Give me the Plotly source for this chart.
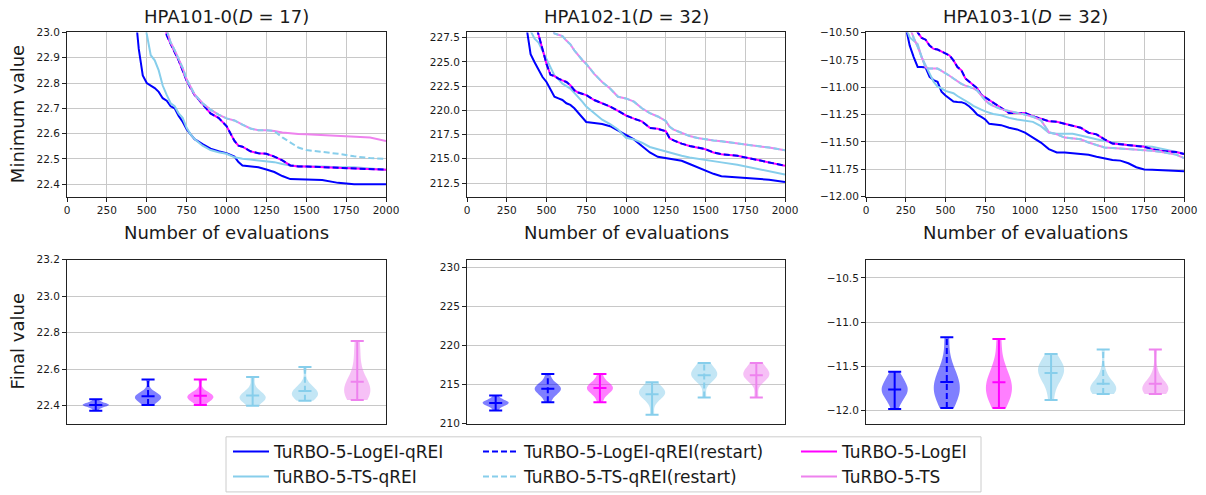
import numpy as np
import plotly.graph_objects as go

W, H = 1206, 495

# ---------------- data: convergence curves (best value so far) ----------------
p1_x = [425, 450, 475, 500, 525, 550, 575, 600, 625, 650, 675, 700, 725, 750, 775, 800,
        850, 900, 950, 1000, 1050, 1075, 1100, 1150, 1200, 1250, 1300, 1350, 1400, 1450,
        1500, 1600, 1700, 1800, 1900, 2000]
p1_logei_qrei = [23.10, 22.935, 22.83, 22.80, 22.79, 22.78, 22.765, 22.74, 22.73, 22.708,
                 22.70, 22.67, 22.647, 22.617, 22.597, 22.578, 22.558, 22.54, 22.53, 22.522,
                 22.509, 22.487, 22.474, 22.47, 22.467, 22.458, 22.448, 22.432, 22.42, 22.419,
                 22.418, 22.416, 22.405, 22.40, 22.40, 22.40]
p1_ts_qrei = [None, None, 23.10, 22.994, 22.91, 22.89, 22.85, 22.79, 22.753, 22.72, 22.708,
              22.68, 22.662, 22.623, 22.597, 22.578, 22.552, 22.535, 22.526, 22.52, 22.506,
              22.502, 22.50, 22.497, 22.494, 22.49, 22.487, 22.48, 22.474, 22.472, 22.47,
              22.47, 22.467, 22.467, 22.461, 22.457]
p1_logei = [None, None, None, None, None, None, None, 23.10, 22.99, 22.955, 22.922, 22.89,
            22.85, 22.81, 22.78, 22.753, 22.717, 22.68, 22.662, 22.63, 22.571, 22.552, 22.548,
            22.53, 22.522, 22.52, 22.509, 22.494, 22.474, 22.47, 22.47, 22.467, 22.465, 22.461,
            22.458, 22.457]
p1_logei_qrei_restart = [None, None, None, None, None, None, None, 23.10, 22.99, 22.955,
                         22.922, 22.89, 22.85, 22.81, 22.78, 22.753, 22.717, 22.68, 22.662,
                         22.63, 22.571, 22.552, 22.548, 22.53, 22.522, 22.52, 22.509, 22.494,
                         22.474, 22.47, 22.47, 22.467, 22.465, 22.461, 22.458, 22.457]
p1_ts = [None, None, None, None, None, None, None, None, 23.01, 22.96, 22.93, 22.895, 22.86,
         22.815, 22.785, 22.755, 22.72, 22.695, 22.675, 22.66, 22.652, 22.645, 22.635, 22.62,
         22.613, 22.613, 22.61, 22.604, 22.60, 22.598, 22.597, 22.594, 22.591, 22.587, 22.584,
         22.571]
p1_ts_qrei_restart = [None, None, None, None, None, None, None, None, 23.01, 22.96, 22.93,
                      22.895, 22.86, 22.815, 22.785, 22.755, 22.72, 22.695, 22.675, 22.66,
                      22.652, 22.645, 22.635, 22.62, 22.613, 22.613, 22.61, 22.585, 22.565,
                      22.545, 22.535, 22.528, 22.52, 22.51, 22.503, 22.50]

p2_x = [375, 400, 425, 450, 475, 500, 525, 550, 575, 600, 625, 650, 675, 700, 725, 750, 800,
        850, 900, 950, 1000, 1050, 1100, 1150, 1200, 1250, 1275, 1300, 1350, 1400, 1450, 1500,
        1550, 1600, 1700, 1800, 1900, 2000]
p2_logei_qrei = [228.5, 225.8, 224.96, 224.11, 223.44, 222.93, 222.08, 221.40, 221.23, 221.07,
                 220.73, 220.56, 220.22, 219.71, 219.27, 218.80, 218.70, 218.59, 218.36, 217.92,
                 217.44, 217.0, 216.33, 215.65, 215.21, 215.07, 215.02, 214.97, 214.80, 214.46,
                 214.12, 213.79, 213.45, 213.21, 213.11, 212.94, 212.84, 212.60]
p2_ts_qrei = [None, 228.2, 227.4, 226.99, 226.15, 225.3, 224.45, 223.6, 223.2, 222.76, 222.5,
              222.25, 221.8, 221.40, 220.9, 220.39, 219.71, 219.03, 218.59, 218.02, 217.17,
              217.0, 216.66, 216.22, 215.99, 215.75, 215.65, 215.55, 215.31, 215.14, 215.0,
              214.9, 214.75, 214.63, 214.39, 214.06, 213.72, 213.38]
p2_logei = [None, None, 229.3, 227.67, 226.31, 224.79, 223.67, 223.54, 223.27, 223.1, 222.93,
            222.59, 222.08, 221.84, 221.74, 221.57, 221.07, 220.73, 220.39, 219.95, 219.47,
            219.14, 218.86, 218.19, 218.09, 217.85, 217.1, 216.90, 216.56, 216.33, 216.16,
            215.99, 215.65, 215.48, 215.31, 214.97, 214.63, 214.29]
p2_logei_qrei_restart = [None, None, 229.3, 227.67, 226.31, 224.79, 223.67, 223.54, 223.27,
                         223.1, 222.93, 222.59, 222.08, 221.84, 221.74, 221.57, 221.07, 220.73,
                         220.39, 219.95, 219.47, 219.14, 218.86, 218.19, 218.09, 217.85, 217.1,
                         216.90, 216.56, 216.33, 216.16, 215.99, 215.65, 215.48, 215.31, 214.97,
                         214.63, 214.29]
p2_ts = [None, None, None, None, None, None, 229.0, 227.94, 227.8, 227.67, 227.2, 226.82,
         226.2, 225.64, 225.2, 224.79, 223.77, 222.93, 222.25, 221.40, 221.23, 220.90, 220.22,
         219.71, 219.37, 218.9, 218.3, 218.0, 217.65, 217.35, 217.15, 217.0, 216.9, 216.8,
         216.6, 216.33, 216.16, 215.89]
p2_ts_qrei_restart = [None, None, None, None, None, None, 229.0, 227.94, 227.8, 227.67, 227.2,
                      226.82, 226.2, 225.64, 225.2, 224.79, 223.77, 222.93, 222.25, 221.40,
                      221.23, 220.90, 220.22, 219.71, 219.37, 218.9, 218.3, 218.0, 217.65,
                      217.35, 217.15, 217.0, 216.9, 216.8, 216.6, 216.33, 216.16, 215.89]

p3_x = [250, 275, 300, 325, 350, 375, 400, 425, 450, 475, 500, 525, 550, 575, 600, 625, 650,
        675, 700, 725, 750, 775, 800, 850, 900, 950, 1000, 1050, 1100, 1150, 1200, 1250, 1300,
        1350, 1400, 1450, 1500, 1550, 1600, 1650, 1700, 1750, 1800, 1850, 1900, 1950, 2000]
p3_logei_qrei = [-10.45, -10.62, -10.725, -10.815, -10.815, -10.82, -10.905, -10.935, -10.95,
                 -11.04, -11.076, -11.10, -11.13, -11.135, -11.136, -11.15, -11.175, -11.21,
                 -11.25, -11.27, -11.295, -11.334, -11.34, -11.346, -11.37, -11.385, -11.415,
                 -11.46, -11.505, -11.565, -11.595, -11.595, -11.60, -11.61, -11.616, -11.634,
                 -11.65, -11.664, -11.67, -11.694, -11.73, -11.751, -11.754, -11.757, -11.76,
                 -11.763, -11.766]
p3_ts_qrei = [-10.45, -10.545, -10.575, -10.605, -10.725, -10.80, -10.875, -10.95, -10.995,
              -11.01, -11.034, -11.045, -11.055, -11.08, -11.10, -11.12, -11.145, -11.17,
              -11.19, -11.205, -11.22, -11.235, -11.244, -11.256, -11.28, -11.295, -11.304,
              -11.316, -11.355, -11.415, -11.424, -11.424, -11.424, -11.44, -11.46, -11.475,
              -11.49, -11.505, -11.52, -11.53, -11.535, -11.54, -11.544, -11.56, -11.574,
              -11.59, -11.604]
p3_logei = [None, None, -10.40, -10.50, -10.55, -10.566, -10.62, -10.65, -10.656, -10.674,
            -10.686, -10.71, -10.755, -10.815, -10.845, -10.92, -10.95, -10.98, -11.01, -11.07,
            -11.094, -11.12, -11.145, -11.19, -11.235, -11.235, -11.235, -11.265, -11.286,
            -11.31, -11.316, -11.334, -11.355, -11.37, -11.415, -11.43, -11.475, -11.514,
            -11.52, -11.53, -11.535, -11.544, -11.565, -11.58, -11.586, -11.592, -11.61]
p3_logei_qrei_restart = [None, None, -10.40, -10.50, -10.55, -10.566, -10.62, -10.65, -10.656,
                         -10.674, -10.686, -10.71, -10.755, -10.815, -10.845, -10.92, -10.95,
                         -10.98, -11.01, -11.07, -11.094, -11.12, -11.145, -11.19, -11.235,
                         -11.235, -11.235, -11.265, -11.286, -11.31, -11.316, -11.334, -11.355,
                         -11.37, -11.415, -11.43, -11.475, -11.514, -11.52, -11.53, -11.535,
                         -11.544, -11.565, -11.58, -11.586, -11.592, -11.61]
p3_ts = [None, -10.45, -10.55, -10.63, -10.72, -10.82, -10.83, -10.83, -10.83, -10.85, -10.87,
         -10.895, -10.92, -10.945, -10.97, -10.985, -10.995, -11.01, -11.03, -11.08, -11.12,
         -11.15, -11.17, -11.20, -11.215, -11.23, -11.25, -11.27, -11.30, -11.41, -11.43,
         -11.46, -11.47, -11.475, -11.505, -11.525, -11.55, -11.555, -11.56, -11.563, -11.565,
         -11.572, -11.58, -11.59, -11.60, -11.615, -11.646]
p3_ts_qrei_restart = [None, -10.45, -10.55, -10.63, -10.72, -10.82, -10.83, -10.83, -10.83,
                      -10.85, -10.87, -10.895, -10.92, -10.945, -10.97, -10.985, -10.995,
                      -11.01, -11.03, -11.08, -11.12, -11.15, -11.17, -11.20, -11.215, -11.23,
                      -11.25, -11.27, -11.30, -11.41, -11.43, -11.46, -11.47, -11.475, -11.505,
                      -11.525, -11.55, -11.555, -11.56, -11.563, -11.565, -11.572, -11.58,
                      -11.59, -11.60, -11.615, -11.646]

# ---------------- data: final values (samples per method, estimated) ----------------
p1_final = {
    "TuRBO-5-LogEI-qREI": [22.373, 22.395, 22.400, 22.403, 22.405, 22.407, 22.410, 22.415, 22.436],
    "TuRBO-5-LogEI-qREI(restart)": [22.404, 22.425, 22.435, 22.44, 22.445, 22.45, 22.455, 22.46, 22.47, 22.544],
    "TuRBO-5-LogEI": [22.404, 22.428, 22.437, 22.443, 22.448, 22.452, 22.456, 22.462, 22.47, 22.544],
    "TuRBO-5-TS-qREI": [22.400, 22.425, 22.435, 22.44, 22.445, 22.45, 22.455, 22.465, 22.49, 22.557],
    "TuRBO-5-TS-qREI(restart)": [22.427, 22.445, 22.455, 22.46, 22.465, 22.47, 22.48, 22.49, 22.51, 22.613],
    "TuRBO-5-TS": [22.432, 22.455, 22.47, 22.48, 22.49, 22.5, 22.515, 22.565, 22.66, 22.755],
}
p2_final = {
    "TuRBO-5-LogEI-qREI": [211.64, 212.2, 212.4, 212.5, 212.6, 212.65, 212.75, 212.85, 213.0, 213.57],
    "TuRBO-5-LogEI-qREI(restart)": [212.69, 213.6, 214.0, 214.2, 214.35, 214.5, 214.65, 214.8, 215.2, 216.34],
    "TuRBO-5-LogEI": [212.69, 213.7, 214.1, 214.3, 214.45, 214.6, 214.75, 214.9, 215.3, 216.34],
    "TuRBO-5-TS-qREI": [211.09, 212.9, 213.5, 213.7, 213.85, 213.9, 214.1, 214.3, 214.8, 215.25],
    "TuRBO-5-TS-qREI(restart)": [213.32, 215.5, 215.85, 216.0, 216.15, 216.35, 216.55, 216.9, 217.35, 217.73],
    "TuRBO-5-TS": [213.32, 215.5, 215.85, 216.0, 216.15, 216.35, 216.55, 216.9, 217.35, 217.73],
}
p3_final = {
    "TuRBO-5-LogEI-qREI": [-11.98, -11.88, -11.83, -11.80, -11.77, -11.75, -11.72, -11.68, -11.63, -11.56],
    "TuRBO-5-LogEI-qREI(restart)": [-11.97, -11.88, -11.82, -11.78, -11.74, -11.70, -11.65, -11.58, -11.48, -11.17],
    "TuRBO-5-LogEI": [-11.97, -11.88, -11.82, -11.78, -11.74, -11.70, -11.65, -11.58, -11.47, -11.19],
    "TuRBO-5-TS-qREI": [-11.88, -11.72, -11.65, -11.60, -11.57, -11.54, -11.51, -11.48, -11.44, -11.36],
    "TuRBO-5-TS-qREI(restart)": [-11.81, -11.79, -11.78, -11.77, -11.76, -11.75, -11.74, -11.72, -11.70, -11.66, -11.55, -11.31],
    "TuRBO-5-TS": [-11.81, -11.79, -11.78, -11.77, -11.76, -11.75, -11.74, -11.72, -11.70, -11.66, -11.55, -11.31],
}

titles = ["HPA101-0(<i>D</i> = 17)", "HPA102-1(<i>D</i> = 32)", "HPA103-1(<i>D</i> = 32)"]
x_ticks = [0, 250, 500, 750, 1000, 1250, 1500, 1750, 2000]

# ---------------- styles ----------------
FONT = "DejaVu Sans"
TXT = "#1a1a1a"
methods = ["TuRBO-5-LogEI-qREI", "TuRBO-5-TS-qREI", "TuRBO-5-LogEI",
           "TuRBO-5-LogEI-qREI(restart)", "TuRBO-5-TS", "TuRBO-5-TS-qREI(restart)"]
style = {
    "TuRBO-5-LogEI-qREI": dict(color="#0000ff", dash="solid", legend="legend"),
    "TuRBO-5-TS-qREI": dict(color="#87ceeb", dash="solid", legend="legend"),
    "TuRBO-5-LogEI-qREI(restart)": dict(color="#0000ff", dash="6px,3px", legend="legend2"),
    "TuRBO-5-TS-qREI(restart)": dict(color="#87ceeb", dash="6px,3px", legend="legend2"),
    "TuRBO-5-LogEI": dict(color="#ff00ff", dash="solid", legend="legend3"),
    "TuRBO-5-TS": dict(color="#ee82ee", dash="solid", legend="legend3"),
}
fills = {
    "TuRBO-5-LogEI-qREI": "rgba(0,0,255,0.5)",
    "TuRBO-5-LogEI-qREI(restart)": "rgba(0,0,255,0.5)",
    "TuRBO-5-LogEI": "rgba(255,0,255,0.5)",
    "TuRBO-5-TS-qREI": "rgba(135,206,235,0.5)",
    "TuRBO-5-TS-qREI(restart)": "rgba(135,206,235,0.5)",
    "TuRBO-5-TS": "rgba(238,130,238,0.5)",
}
violin_order = ["TuRBO-5-LogEI-qREI", "TuRBO-5-LogEI-qREI(restart)", "TuRBO-5-LogEI",
                "TuRBO-5-TS-qREI", "TuRBO-5-TS-qREI(restart)", "TuRBO-5-TS"]

curves = [
    (p1_x, {"TuRBO-5-LogEI-qREI": p1_logei_qrei, "TuRBO-5-TS-qREI": p1_ts_qrei,
            "TuRBO-5-LogEI": p1_logei, "TuRBO-5-LogEI-qREI(restart)": p1_logei_qrei_restart,
            "TuRBO-5-TS": p1_ts, "TuRBO-5-TS-qREI(restart)": p1_ts_qrei_restart}),
    (p2_x, {"TuRBO-5-LogEI-qREI": p2_logei_qrei, "TuRBO-5-TS-qREI": p2_ts_qrei,
            "TuRBO-5-LogEI": p2_logei, "TuRBO-5-LogEI-qREI(restart)": p2_logei_qrei_restart,
            "TuRBO-5-TS": p2_ts, "TuRBO-5-TS-qREI(restart)": p2_ts_qrei_restart}),
    (p3_x, {"TuRBO-5-LogEI-qREI": p3_logei_qrei, "TuRBO-5-TS-qREI": p3_ts_qrei,
            "TuRBO-5-LogEI": p3_logei, "TuRBO-5-LogEI-qREI(restart)": p3_logei_qrei_restart,
            "TuRBO-5-TS": p3_ts, "TuRBO-5-TS-qREI(restart)": p3_ts_qrei_restart}),
]
finals = [p1_final, p2_final, p3_final]

fig = go.Figure()

# top row: convergence curves
for k, (xs, series) in enumerate(curves):
    ax = "" if k == 0 else str(k + 1)
    for m in methods:
        st = style[m]
        fig.add_trace(go.Scatter(
            x=xs, y=series[m], mode="lines", name=m,
            line=dict(color=st["color"], width=2, dash=st["dash"]),
            xaxis="x" + ax, yaxis="y" + ax,
            showlegend=(k == 0), legend=st["legend"], connectgaps=False,
        ))

# bottom row: violins of final values (Scott's rule bandwidth, like matplotlib)
CAP = 0.125
for k, fin in enumerate(finals):
    ax = str(k + 4)
    for i, m in enumerate(violin_order):
        pos = i + 1
        vals = np.array(fin[m])
        bw = float(np.std(vals, ddof=1) * len(vals) ** (-0.2))
        fig.add_trace(go.Violin(
            y=vals, x0=pos, width=0.5, fillcolor=fills[m], line=dict(width=0),
            points=False, spanmode="hard", side="both", scalemode="width",
            bandwidth=bw,
            xaxis="x" + ax, yaxis="y" + ax, showlegend=False, hoverinfo="y",
        ))
        lo, hi, mu = float(vals.min()), float(vals.max()), float(vals.mean())
        col = style[m]["color"]
        dash = style[m]["dash"]
        fig.add_trace(go.Scatter(
            x=[pos, pos], y=[lo, hi], mode="lines",
            line=dict(color=col, width=2, dash=dash),
            xaxis="x" + ax, yaxis="y" + ax, showlegend=False, hoverinfo="skip"))
        fig.add_trace(go.Scatter(
            x=[pos - CAP, pos + CAP, None, pos - CAP, pos + CAP, None, pos - CAP, pos + CAP],
            y=[lo, lo, None, hi, hi, None, mu, mu], mode="lines",
            line=dict(color=col, width=2),
            xaxis="x" + ax, yaxis="y" + ax, showlegend=False, hoverinfo="skip"))

# ---------------- layout ----------------
def fx(p):
    return p / W


def fy(p):
    return 1 - p / H


cols_px = [(67, 386), (467, 785), (866, 1184)]
top_px = (33, 200)
bot_px = (264, 431)

base = dict(showline=True, mirror=True, linecolor="#222", linewidth=1,
            ticks="outside", ticklen=4, tickwidth=1, tickcolor="#222",
            tickfont=dict(family=FONT, size=10.5, color=TXT),
            zeroline=False, automargin=False, gridcolor="#c8c8c8", gridwidth=1.1)

top_y = [
    dict(range=[22.35, 23.0], tickvals=[22.4, 22.5, 22.6, 22.7, 22.8, 22.9, 23.0], tickformat=".1f"),
    dict(range=[211.08, 228.04], tickvals=[212.5, 215.0, 217.5, 220.0, 222.5, 225.0, 227.5], tickformat=".1f"),
    dict(range=[-12.0, -10.5], tickvals=[-12.0, -11.75, -11.5, -11.25, -11.0, -10.75, -10.5], tickformat=".2f"),
]
bot_y = [
    dict(range=[22.30, 23.2], tickvals=[22.4, 22.6, 22.8, 23.0, 23.2], tickformat=".1f"),
    dict(range=[209.9, 231.0], tickvals=[210, 215, 220, 225, 230], tickformat=".0f"),
    dict(range=[-12.15, -10.296], tickvals=[-12.0, -11.5, -11.0, -10.5], tickformat=".1f"),
]

lay = {}
for k in range(3):
    a = "" if k == 0 else str(k + 1)
    b = str(k + 4)
    xd = [fx(cols_px[k][0]), fx(cols_px[k][1])]
    lay["xaxis" + a] = dict(base, domain=xd, range=[0, 2000], tickvals=x_ticks,
                            showgrid=True, anchor="y" + a, type="linear")
    lay["yaxis" + a] = dict(base, domain=[fy(top_px[1]), fy(top_px[0])], showgrid=True,
                            anchor="x" + a, **top_y[k])
    lay["xaxis" + b] = dict(base, domain=xd, range=[0.45, 6.55], showgrid=False,
                            ticks="", showticklabels=False, anchor="y" + b, type="linear")
    lay["yaxis" + b] = dict(base, domain=[fy(bot_px[1]), fy(bot_px[0])], showgrid=True,
                            anchor="x" + b, **bot_y[k])

annotations = []
for k in range(3):
    cx = fx((cols_px[k][0] + cols_px[k][1]) / 2)
    annotations.append(dict(text=titles[k], x=cx, y=fy(17), xref="paper", yref="paper",
                            xanchor="center", yanchor="middle", showarrow=False,
                            font=dict(family=FONT, size=18, color=TXT)))
    annotations.append(dict(text="Number of evaluations", x=cx, y=fy(236), xref="paper",
                            yref="paper", xanchor="center", yanchor="middle", showarrow=False,
                            font=dict(family=FONT, size=18, color=TXT)))
annotations.append(dict(text="Minimum value", x=fx(17), y=fy(116), xref="paper", yref="paper",
                        xanchor="center", yanchor="middle", textangle=-90, showarrow=False,
                        font=dict(family=FONT, size=18, color=TXT)))
annotations.append(dict(text="Final value", x=fx(17), y=fy(347), xref="paper", yref="paper",
                        xanchor="center", yanchor="middle", textangle=-90, showarrow=False,
                        font=dict(family=FONT, size=18, color=TXT)))

leg_common = dict(orientation="v", xanchor="left", yanchor="top", bgcolor="rgba(0,0,0,0)",
                  borderwidth=0, font=dict(family=FONT, size=17, color=TXT),
                  itemwidth=36, traceorder="normal")

fig.update_layout(
    width=W, height=H,
    margin=dict(l=0, r=0, t=0, b=0),
    paper_bgcolor="white", plot_bgcolor="white",
    font=dict(family=FONT, color=TXT),
    violinmode="overlay",
    annotations=annotations,
    legend=dict(leg_common, x=fx(228), y=fy(441)),
    legend2=dict(leg_common, x=fx(478), y=fy(441)),
    legend3=dict(leg_common, x=fx(796), y=fy(441)),
    shapes=[dict(type="rect", xref="paper", yref="paper", x0=fx(226), x1=fx(981),
                 y0=fy(500), y1=fy(444), line=dict(color="#cccccc", width=1),
                 fillcolor="rgba(255,255,255,0.8)", layer="below")],
    **lay,
)

page_css = (
    "var s=document.createElement('style');"
    "s.textContent='html,body{margin:0;padding:0;overflow:hidden;width:1206px;height:495px;}';"
    "document.head.appendChild(s);"
)

fig.write_html(
    "out.html",
    config={"displayModeBar": False},
    post_script=page_css,
)
